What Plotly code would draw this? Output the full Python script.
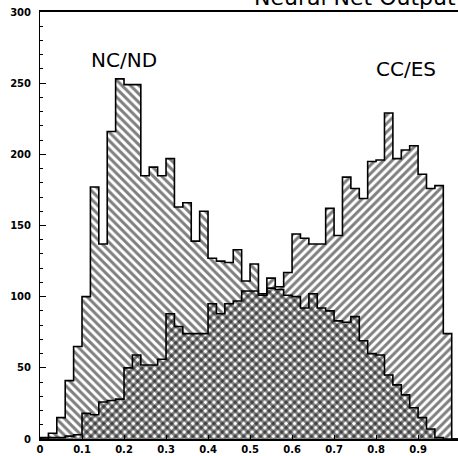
import numpy as np
import plotly.graph_objects as go

# ---- data (counts per bin, 50 bins of width 0.02 from 0 to 1) ----
bin_start = 0.0
bin_width = 0.02
nc_nd = [1, 4, 15, 41, 65, 100, 177, 137, 216, 253,
         249, 249, 185, 191, 185, 197, 163, 166, 139, 160,
         127, 125, 124, 133, 111, 123, 102, 106, 105, 101,
         100, 92, 102, 92, 90, 83, 82, 86, 69, 60,
         59, 45, 38, 31, 22, 15, 7, 1, 0, 0]
cc_es = [0, 1, 1, 2, 3, 18, 17, 26, 27, 28,
         50, 59, 52, 52, 56, 88, 79, 74, 74, 74,
         95, 88, 95, 97, 104, 104, 101, 113, 107, 117,
         144, 141, 137, 137, 162, 143, 184, 176, 169, 195,
         196, 229, 197, 203, 206, 186, 176, 178, 74, 0]
x_ticks = [0, 0.1, 0.2, 0.3, 0.4, 0.5, 0.6, 0.7, 0.8, 0.9]
x_tick_labels = ["0", "0.1", "0.2", "0.3", "0.4", "0.5", "0.6", "0.7", "0.8", "0.9"]
y_ticks = [0, 50, 100, 150, 200, 250, 300]
y_tick_labels = ["0", "50", "100", "150", "200", "250", "300"]
label_nc = "NC/ND"
label_cc = "CC/ES"
title_text = "Neural Net Output"

n = len(nc_nd)
edges = bin_start + bin_width * np.arange(n + 1)
centers = edges[:-1] + bin_width / 2


def step_xy(vals):
    xs = np.concatenate([[edges[0]], edges])
    ys = np.concatenate([[0], vals, [0]])
    return xs, ys


fig = go.Figure()

for vals, shape in ((nc_nd, "\\"), (cc_es, "/")):
    fig.add_trace(go.Bar(
        x=centers, y=vals, width=bin_width,
        marker=dict(color="rgba(0,0,0,0)",
                    line=dict(width=0),
                    pattern=dict(shape=shape, fgcolor="black",
                                 bgcolor="rgba(0,0,0,0)",
                                 size=6, solidity=0.5)),
        showlegend=False, hoverinfo="skip"))

for vals in (nc_nd, cc_es):
    xs, ys = step_xy(vals)
    fig.add_trace(go.Scatter(x=xs, y=ys, mode="lines",
                             line=dict(color="black", width=1.6, shape="hv"),
                             showlegend=False, hoverinfo="skip"))

tickfont = dict(family="DejaVu Sans", size=10, color="black", weight="bold")

fig.update_layout(
    width=458, height=456,
    margin=dict(l=40, r=0, t=12, b=17),
    paper_bgcolor="white", plot_bgcolor="white",
    barmode="overlay", bargap=0,
    xaxis=dict(range=[0, 0.995], tickvals=x_ticks, ticktext=x_tick_labels,
               automargin=False,
               showgrid=False, zeroline=False, showline=True, mirror=True,
               linecolor="black", linewidth=1.5, ticks="inside", ticklen=4,
               tickcolor="black", tickfont=tickfont, ticklabelstandoff=0),
    yaxis=dict(range=[0, 300], tickvals=y_ticks, ticktext=y_tick_labels,
               automargin=False,
               showgrid=False, zeroline=False, showline=True,
               linecolor="black", linewidth=1, ticks="inside", ticklen=6,
               tickcolor="black", tickfont=tickfont, ticklabelstandoff=6,
               minor=dict(dtick=10, ticks="inside", ticklen=3,
                          tickcolor="black", showgrid=False)),
    annotations=[
        dict(x=0.199, y=266, xref="x", yref="y", text=label_nc,
             showarrow=False, font=dict(family="DejaVu Sans", size=20, color="black")),
        dict(x=0.872, y=260, xref="x", yref="y", text=label_cc,
             showarrow=False, font=dict(family="DejaVu Sans", size=20, color="black")),
        dict(x=1, y=1, xref="paper", yref="paper", xanchor="right", yanchor="bottom",
             text=title_text, showarrow=False,
             font=dict(family="DejaVu Sans", size=22, color="black")),
    ],
)

fig.write_html("out.html",
               config={"displayModeBar": False},
               post_script="document.body.style.margin='0';document.body.style.overflow='hidden';")
